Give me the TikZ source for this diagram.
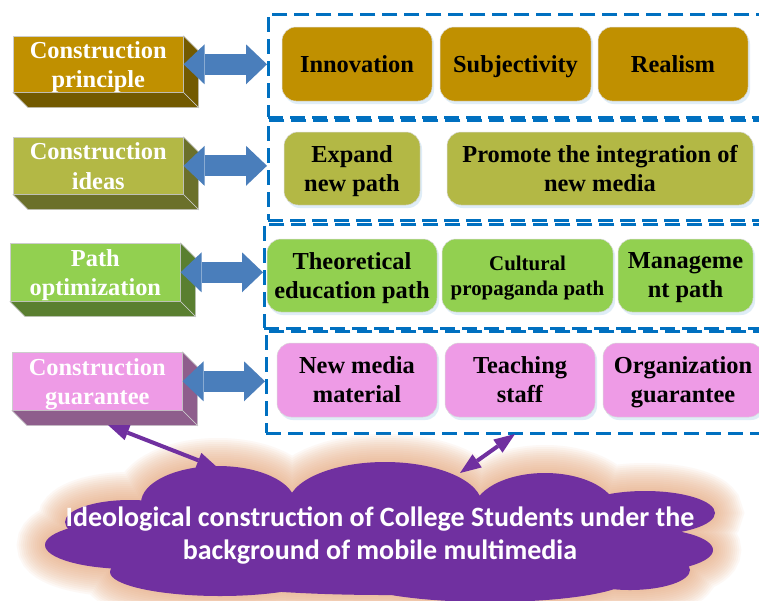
\documentclass[tikz,border=0pt]{standalone}
\usepackage{fontspec}
\setmainfont{Liberation Serif}
\newfontfamily\cloudfont{Carlito}
\usetikzlibrary{arrows.meta,calc,shadows}
\definecolor{gold}{HTML}{C09000}
\definecolor{goldD}{HTML}{735A00}
\definecolor{olive}{HTML}{B3B845}
\definecolor{oliveD}{HTML}{6B702A}
\definecolor{lgreen}{HTML}{92D050}
\definecolor{lgreenD}{HTML}{5A7F30}
\definecolor{pinkv}{HTML}{EE9BE6}
\definecolor{pinkD}{HTML}{8E5E8C}
\definecolor{frameblue}{HTML}{0070C0}
\definecolor{arrowblue}{HTML}{4A7EBB}
\definecolor{cloudpurple}{HTML}{7030A0}
\definecolor{glowc}{HTML}{E8A87C}
\begin{document}
\begin{tikzpicture}[x=1pt,y=-1pt,
 lbox/.style={draw=black!20, line width=0.6pt, minimum width=170, anchor=north west, inner sep=0pt, text depth=0pt, align=center, text=white, font=\bfseries\fontsize{24.4}{29.5}\selectfont},
 rbox/.style={draw=black!15, line width=0.5pt, rounded corners=14pt, inner sep=0pt, text depth=0pt, align=center, font=\bfseries\fontsize{24.4}{29}\selectfont, drop shadow={shadow xshift=2pt, shadow yshift=-3pt, fill=frameblue!35, opacity=0.35}},
 frame/.style={draw=frameblue, line width=2.6pt, dash pattern=on 15pt off 7pt, anchor=north west, minimum width=530, inner sep=0pt},
 blinkarrow/.style={draw=arrowblue, line width=21pt, {Triangle[length=21pt,width=40pt,line width=0pt]}-{Triangle[length=21pt,width=40pt,line width=0pt]}},
 plink/.style={draw=cloudpurple, line width=4pt, {Triangle[length=21pt,width=16pt,line width=0pt]}-{Triangle[length=21pt,width=16pt,line width=0pt]}},
 cloudp/.style={insert path={
   (218,503) ellipse [x radius=77, y radius=37]
   (385,505) ellipse [x radius=97, y radius=43]
   (545,512) ellipse [x radius=72, y radius=39]
   (645,513) ellipse [x radius=70, y radius=22]
   (640,550) ellipse [x radius=73, y radius=22]
   (130,522) ellipse [x radius=65, y radius=22]
   (130,545) ellipse [x radius=85, y radius=24]
   (385,545) ellipse [x radius=300, y radius=50]
   (220,572) ellipse [x radius=110, y radius=24]
   (490,578) ellipse [x radius=140, y radius=24]
   (630,570) ellipse [x radius=60, y radius=20]}},
]
\useasboundingbox (0,0) rectangle (759,600);
\fill[white] (0,0) rectangle (759,600);
\begin{scope}
\clip (0,0) rectangle (759,600);

% dashed frames
\node[frame, minimum height=103] (fA) at (267,13) {};
\node[frame, minimum height=100] (fB) at (267,119) {};
\node[frame, minimum height=104] (fC) at (263,223) {};
\node[frame, minimum height=102] (fD) at (265,330) {};

% right boxes
\node[rbox, fill=gold, minimum width=150, minimum height=74] (inn) at (357,64) {Innovation};
\node[rbox, fill=gold, minimum width=151, minimum height=74] (subj) at (515.5,64) {Subjectivity};
\node[rbox, fill=gold, minimum width=150, minimum height=74] (real) at (673,64) {Realism};

\node[rbox, fill=olive, minimum width=136, minimum height=73] (exp) at (352,168.5) {Expand\\new path};
\node[rbox, fill=olive, minimum width=306, minimum height=73] (prom) at (600,168.5) {Promote the integration of\\new media};

\node[rbox, fill=lgreen, minimum width=170, minimum height=73] (theo) at (352,275.5) {Theoretical\\education path};
\node[rbox, fill=lgreen, minimum width=171, minimum height=73, font=\bfseries\fontsize{20.9}{25}\selectfont] (cult) at (527.5,275.5) {Cultural\\propaganda path};
\node[rbox, fill=lgreen, minimum width=135, minimum height=73] (mgmt) at (685.5,275.5) {Manageme\\nt path};

\node[rbox, fill=pinkv, minimum width=160, minimum height=74] (newm) at (357,380) {New media\\material};
\node[rbox, fill=pinkv, minimum width=150, minimum height=74] (teach) at (520,380) {Teaching\\staff};
\node[rbox, fill=pinkv, minimum width=160, minimum height=74] (org) at (683,380) {Organization\\guarantee};

% left 3D boxes
\node[lbox, fill=gold, minimum height=56] (lb1) at (13,36) {Construction\\principle};
\node[lbox, fill=olive, minimum height=57] (lb2) at (13,137) {Construction\\ideas};
\node[lbox, fill=lgreen, minimum height=58] (lb3) at (10,243) {Path\\optimization};
\node[lbox, fill=pinkv, minimum height=58] (lb4) at (12,352) {Construction\\guarantee};
\foreach \b/\c in {lb1/goldD, lb2/oliveD, lb3/lgreenD, lb4/pinkD}{
  \filldraw[fill=\c, draw=black!20, line width=0.6pt] (\b.north east) -- ++(15,15) -- ($(\b.south east)+(15,15)$) -- (\b.south east) -- cycle;
  \filldraw[fill=\c, draw=black!20, line width=0.6pt] (\b.south west) -- (\b.south east) -- ++(15,15) -- ($(\b.south west)+(15,15)$) -- cycle;
}

% blue double arrows
\draw[blinkarrow] (lb1.east) -- (lb1.east -| fA.west);
\draw[blinkarrow] (lb2.east) -- (lb2.east -| fB.west);
\draw[blinkarrow] (lb3.east) -- (lb3.east -| fC.west);
\draw[blinkarrow] (lb4.east) -- (lb4.east -| fD.west);

% cloud with soft glow
\foreach \w in {4,8,...,56}{
  \begin{scope}[transparency group, opacity=0.075]
    \draw[glowc, line width=\w pt, cloudp];
  \end{scope}
}
\fill[cloudpurple, cloudp];
\node[text=white, align=center, inner sep=0pt, font=\cloudfont\bfseries\fontsize{28}{33}\selectfont] (ctext) at (380,536) {Ideological construction of College Students under the\\background of mobile multimedia};

% purple double arrows
\coordinate (pa1) at (108,425);
\coordinate (pa2) at (218,468);
\coordinate (pb1) at (515,434);
\coordinate (pb2) at (460,473);
\draw[plink] (pa1) -- (pa2);
\draw[plink] (pb1) -- (pb2);
\end{scope}
\end{tikzpicture}
\end{document}
